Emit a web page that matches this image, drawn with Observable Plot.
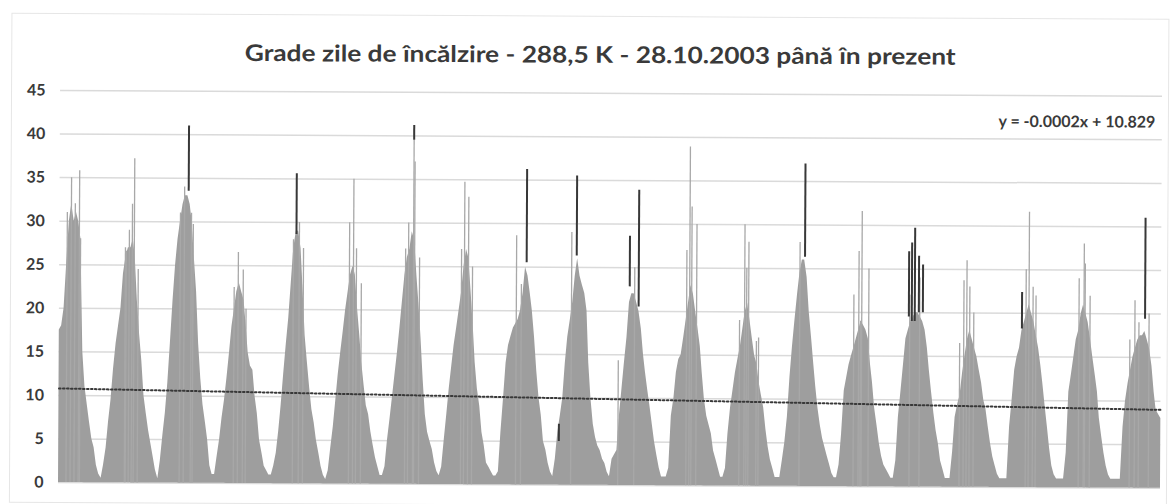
<!DOCTYPE html>
<html>
<head>
<meta charset="utf-8">
<script src="https://cdn.jsdelivr.net/npm/d3@7"></script>
<script src="https://cdn.jsdelivr.net/npm/@observablehq/plot@0.6"></script>
<style>
  html, body { margin: 0; padding: 0; background: #fff; }
  #outer { width: 1173px; height: 504px; overflow: hidden; background: #fff; }
  #wrap { position: relative; width: 1173px; height: 504px; background: #fff; font-family: Lato, "Noto Sans", sans-serif;
          transform: rotate(0.3deg); transform-origin: 58px 482px; }
  #frame { position: absolute; left: 9px; top: 13px; width: 1156px; height: 488px; border: 1px solid #e6e6e6; pointer-events: none; }
  #title { position: relative; height: 75px; }
  #t { position: absolute; left: 598px; top: 51px; transform: translate(-50%, -50%); white-space: nowrap; font-weight: 700; font-size: 23px; color: #3a3a3a; }
  #chart { position: relative; height: 429px; }
</style>
</head>
<body>
<div id="outer">
<div id="wrap">
  <div id="frame"></div>
  <div id="title"><span id="t"></span></div>
  <div id="chart"></div>
</div>
</div>
<script>
// ---------- data ----------
const titleText = "Grade zile de încălzire - 288,5 K - 28.10.2003 până în prezent";
const equationText = "y = -0.0002x + 10.829";

// heating seasons, each starting on 1 August of the given year
const seasons = [2003, 2004, 2005, 2006, 2007, 2008, 2009, 2010, 2011, 2012,
                 2013, 2014, 2015, 2016, 2017, 2018, 2019, 2020, 2021, 2022];
// half-month sampling points of a season (Aug 1 ... Jul 16)
const halfMonths = ["08-01","08-16","09-01","09-16","10-01","10-16","11-01","11-16",
                    "12-01","12-16","01-01","01-16","02-01","02-16","03-01","03-16",
                    "04-01","04-16","05-01","05-16","06-01","06-16","07-01","07-16"];

// typical (bulk) degree-day level of each half month, per season
const s2003 = [null,null,null,null,null,null,17.5,18,20,25,30,32,30,31,30,28,15,11,9,7,5,4,2,1];
const s2004 = [0.5,2,4,7,9.5,13,16,18,20,24,26,27,27,28,26,21,17,14,10,8,6,4.5,3,1.5];
const s2005 = [0.5,2.5,5.5,8,11.5,16,21,25,28,30,32,33,33,32,30,26,22,16,12,9,7,5,2,1];
const s2006 = [1,3,5,7.5,9.5,12,15,18,20,22,23,22,21,18,15,13.5,13,10,8,5,3.5,2,1.5,1];
const s2007 = [1,2,3.5,6,9,12.5,16,19,23,27,29,29,27,22,17,14,11,8.5,7,5,3.5,2,1,0.5];
const s2008 = [1.5,4,6.5,9.5,12.5,15,17.5,20,22,24,25,24,20,17,14,11.5,9,8,6,4.5,3,2,1,1];
const s2009 = [2,5,7.5,10,12.5,15,18,21,24,26,27,29,28,24,21,17,12,8,6,5,4,2.5,1.5,1];
const s2010 = [2,5,8,11,13.5,16,18,20,22,25,27,26,22,18,14,11,9,6,4.5,2.5,2,1.5,1,1];
const s2011 = [1.5,6,10,14,16,17,18,18.5,19,20,22,25,24,22,20,17,13,10,8,5,4,2.5,1.5,1];
const s2012 = [3,6,8,10,14,17,19,21,24,26,24,23,22,20,14,10,7,5.5,4.5,4,3,2.5,1.5,1];
const s2013 = [3,3.5,4,8,11,14,17,21,22,22,21,20,18,15,13,11,9,7,5,3.5,2,1,1,1];
const s2014 = [2,8,10,13,14.5,15,17,19,21,23,22,20,18,16,13,10,8,7,6,4,3,2,1,1];
const s2015 = [2,6,9,11,13,14.5,16,18,20,21,19,17,15,14,12,10.5,9,6.5,4.5,3,2,1,1,1];
const s2016 = [3,5,8,12.5,16,19,22,24.5,26,26,24,20,17,14,11.5,9,7,5.5,4.5,3.5,2.5,1.5,1,1];
const s2017 = [2.5,6,11,12.5,14,15,16,17,18,19,18.5,18,17,14,12,9,7,5,3.5,2.5,2,1.5,1,1];
const s2018 = [3,8,11,14,17,18,19,19.5,20,20,19.5,19,18,16,13.5,11,8.5,6.5,5,3,2,1,1,1];
const s2019 = [4,8,9.5,10.5,13,15,17,18,17,16,15,13.5,12,10,9,7,5,3.5,2.5,1.5,1,1,1,1];
const s2020 = [7,10,13.5,15,16,18,19,20,21,20,19,17.5,16,14,12,9.5,7,4.5,2.5,1.5,1,1,1,1];
const s2021 = [4,11,13,15,17,18,20,21,20,19,17,15,13,11,8,6,4,2.5,1.5,1,1,1,1,1];
const s2022 = [7,10,12,13.5,15,16,17,17.5,17.5,18,17,16,14,11,9,8.5,8];
const seasonValues = [s2003,s2004,s2005,s2006,s2007,s2008,s2009,s2010,s2011,s2012,
                      s2013,s2014,s2015,s2016,s2017,s2018,s2019,s2020,s2021,s2022];

// single cold days standing out above the bulk
const spikes = [
  ["2004-01-14",35],["2004-03-06",35.8],["2004-02-08",32],["2003-12-19",31],["2004-03-14",28],
  ["2005-01-03",26.6],["2005-02-10",32],["2005-02-23",37.2],["2005-01-22",29],["2004-12-28",27],["2005-03-21",24.5],
  ["2005-12-16",31],["2006-01-11",34],["2006-02-25",31],["2006-03-09",29.7],
  ["2006-12-25",26.5],["2006-11-29",22.5],["2007-01-26",24.5],["2007-02-14",20],
  ["2007-12-14",28],["2008-01-21",30],["2008-02-17",27],
  ["2009-01-04",35],["2008-12-09",30],["2009-02-24",23],["2009-01-23",27],
  ["2010-01-25",39.5],["2009-12-24",30],["2010-02-01",37],["2010-03-05",26],["2009-12-05",27],
  ["2010-12-19",34.7],["2011-01-14",33],["2010-11-30",27],["2011-02-09",25],
  ["2011-11-19",28.6],["2011-12-21",23],
  ["2012-11-08",29],
  ["2013-09-07",14.3],["2013-12-19",25],
  ["2014-12-08",38.9],["2015-01-22",30],["2014-11-19",27],["2014-12-21",32],
  ["2015-11-27",30],["2015-12-23",28],["2015-12-10",25],["2016-02-12",16.6],["2015-10-26",19],["2016-02-26",17],
  ["2016-11-16",28],
  ["2017-12-20",31.6],["2018-02-03",25],["2017-12-01",27],["2017-10-30",22],["2017-12-13",19],
  ["2018-12-28",24],["2018-10-25",22],
  ["2019-10-27",26],["2019-11-15",23],["2019-10-08",23.7],["2019-12-11",20],["2019-09-12",16.5],
  ["2020-11-30",31.6],["2020-11-11",25],["2020-12-26",23],["2021-01-14",22],
  ["2021-11-19",28],["2021-11-26",25.7],["2021-10-18",24],["2021-12-28",22],
  ["2022-10-13",21.5],["2022-11-08",19],["2022-09-11",17],["2023-01-12",20]
];

// dark (black) segments visible on some of the peaks: date, from, to
const darkMarks = [
  ["2006-02-06",33.5,41],
  ["2008-01-02",28.6,35.6],
  ["2010-01-25",39.5,41.2],
  ["2012-01-23",25.5,36.2],
  ["2012-12-10",26.3,35.5],["2012-08-23",5,7],
  ["2013-11-17",22.8,28.6],["2014-01-14",20.5,33.9],
  ["2016-12-18",26.3,37],
  ["2018-10-19",19.5,27],["2018-11-07",19,28],["2018-11-26",19,29.7],["2018-12-22",20,26.5],["2019-01-17",20,25.5],
  ["2020-10-16",18.2,22.4],
  ["2022-12-17",19.4,31]
];

// linear trend line, value at start and at end of the record
const trendValues = [10.8, 9.0];
const yTicks = [0, 5, 10, 15, 20, 25, 30, 35, 40, 45];

// ---------- build tables ----------
const base = [];
seasons.forEach((y, k) => {
  seasonValues[k].forEach((v, j) => {
    if (v == null) return;
    const [mm, dd] = halfMonths[j].split("-").map(Number);
    const year = mm >= 8 ? y : y + 1;
    base.push({date: new Date(Date.UTC(year, mm - 1, dd)), value: v});
  });
});
const spikeData = spikes.map(([d, v]) => ({date: new Date(d), value: v}));
const darkData = darkMarks.map(([d, a, b]) => ({date: new Date(d), from: a, to: b}));
const startDate = base[0].date, endDate = base[base.length - 1].date;
const trend = [{date: startDate, value: trendValues[0]}, {date: endDate, value: trendValues[1]}];

const chart = Plot.plot({
  width: 1173,
  height: 429,
  marginTop: 15,
  marginBottom: 22,
  marginLeft: 58,
  marginRight: 13,
  style: {background: "transparent", fontFamily: "Lato, 'Noto Sans', sans-serif", overflow: "visible"},
  x: {type: "utc", domain: [startDate, endDate], axis: null},
  y: {domain: [0, 45], axis: null},
  marks: [
    Plot.gridY(yTicks, {stroke: "#dadada", strokeOpacity: 1, strokeWidth: 1.5}),
    Plot.areaY(base, {x: "date", y: "value", fill: "#9e9e9e", curve: "linear"}),
    Plot.ruleX(spikeData, {x: "date", y1: 0, y2: "value", stroke: "#a8a8a8", strokeWidth: 1.3}),
    Plot.lineY(trend, {x: "date", y: "value", stroke: "#383838", strokeWidth: 2, strokeDasharray: "1.6,2.4"}),
    Plot.ruleX(darkData, {x: "date", y1: "from", y2: "to", stroke: "#383838", strokeWidth: 2}),
    Plot.axisY(yTicks, {tickSize: 0, tickPadding: 15, fontSize: 16, fontWeight: 700, fill: "#3a3a3a", label: null, tickFormat: d => String(d)}),
    Plot.text([equationText], {frameAnchor: "top-right", dx: -7, dy: 20, text: d => d, fontSize: 16, fontWeight: 700, fill: "#3a3a3a"})
  ]
});
document.getElementById("chart").appendChild(chart);

const t = document.getElementById("t");
t.textContent = titleText;
const w = t.getBoundingClientRect().width;
t.style.transform = `translate(-50%, -50%) scaleX(${711 / w})`;
</script>
</body>
</html>
